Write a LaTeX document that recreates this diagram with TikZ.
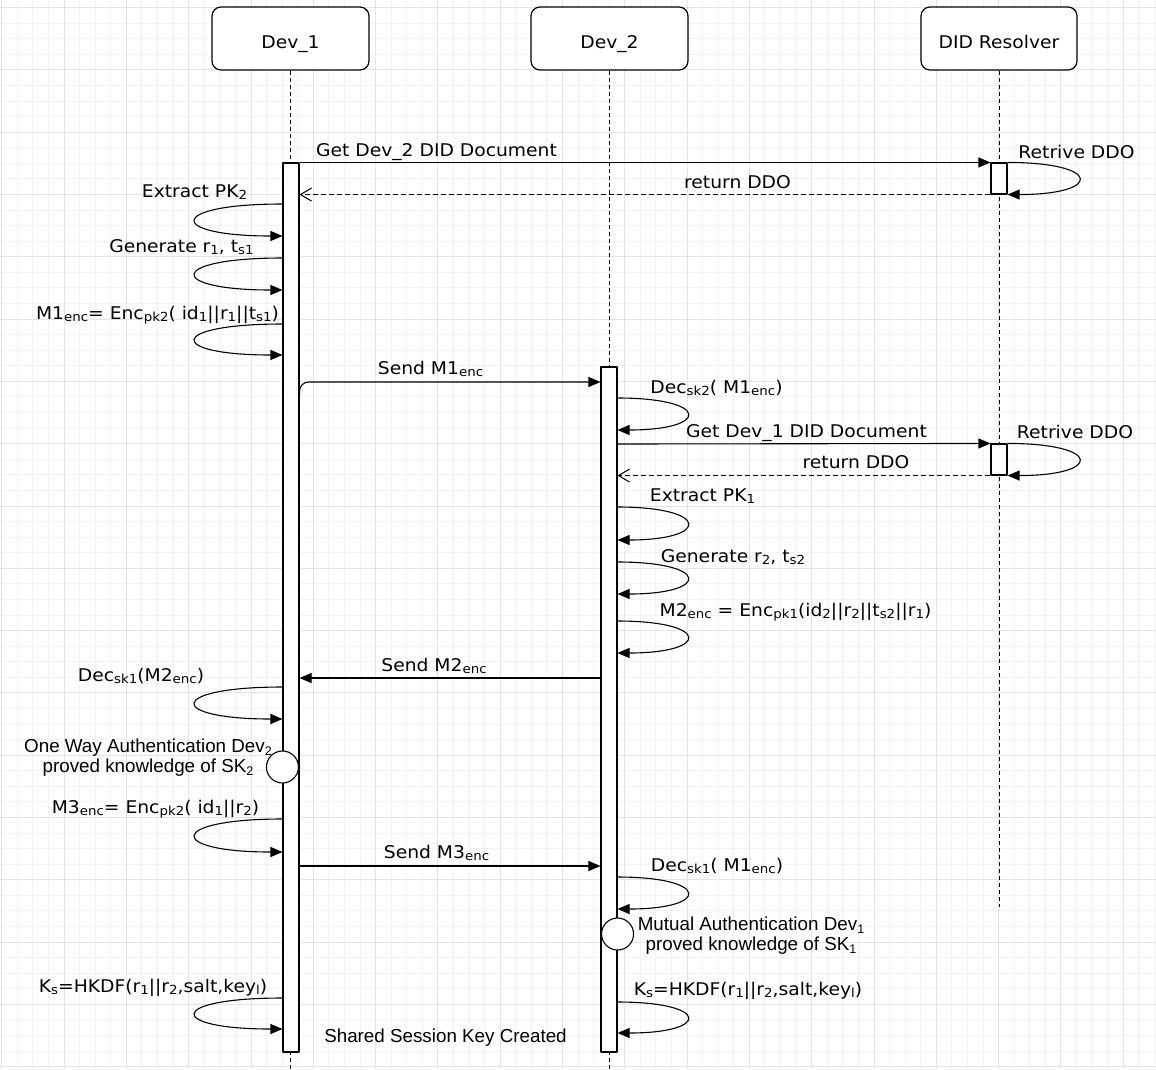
\documentclass[tikz,border=0pt]{standalone}
\usepackage{fontspec}
\setmainfont{DejaVu Sans}[FakeStretch=1.07]
\newfontfamily\arialfont{Liberation Sans}
\usetikzlibrary{arrows.meta}
\newcommand{\dn}[1]{\raisebox{-.3ex}{\fontsize{12.5}{13}\selectfont #1}}
\definecolor{gridminor}{HTML}{F3F3F3}
\definecolor{gridmajor}{HTML}{E4E4E4}

\begin{document}
\begin{tikzpicture}[x=1pt,y=-1pt,line join=round,
	head/.style={draw,rounded corners=9pt,line width=1.2pt,fill=white,minimum width=157pt,minimum height=63pt,text height=19pt,text depth=0pt,font=\fontsize{17.5}{20}\selectfont},
	actbar/.style={draw,line width=1.1pt,fill=white,minimum width=16pt,inner sep=0pt},
	authpt/.style={draw,circle,line width=1.1pt,fill=white,minimum size=32pt,inner sep=0pt},
	lifeline/.style={line width=1pt,dash pattern=on 4pt off 3pt},
	msg/.style={line width=1.1pt,-{Triangle[length=12pt,width=10pt]}},
	reply/.style={line width=1pt,dash pattern=on 5pt off 3pt,-{Straight Barb[length=11pt,width=13pt]}},
	lbl/.style={anchor=base,inner sep=0pt,font=\fontsize{17.5}{21}\selectfont},
	albl/.style={align=center,inner sep=0pt,font=\arialfont\fontsize{18.8}{20}\selectfont}]
	\useasboundingbox[fill=white] (0,0) rectangle (1156,1069);
	\foreach \i in {0,...,74}
	\draw[gridminor,line width=.8pt] ({1.7+\i*15.575},0) -- ++(0,1069);
	\foreach \j in {0,...,68}
	\draw[gridminor,line width=.8pt] (0,{7.5+\j*15.575}) -- ++(1156,0);
	\foreach \i in {0,...,18}
	\draw[gridmajor,line width=.8pt] ({1.7+\i*62.3},0) -- ++(0,1069);
	\foreach \j in {0,...,17}
	\draw[gridmajor,line width=.8pt] (0,{7.5+\j*62.3}) -- ++(1156,0);
	
	\node[head] (dev1) at (290.5,38.5) {Dev\_1};
	\node[head] (dev2) at (609.5,38.5) {Dev\_2};
	\node[head,minimum width=156pt] (res) at (999,38.5) {DID Resolver};
	\draw[lifeline] (dev1.south) -- (dev1.south |- 0,1069);
	\draw[lifeline] (dev2.south) -- (dev2.south |- 0,1069);
	\draw[lifeline] (res.south) -- (res.south |- 0,907);
	
	\node[actbar,minimum height=889pt] (bar1) at (291,607.5) {};
	\node[actbar,minimum height=685pt] (bar2) at (609,709.5) {};
	\node[actbar,minimum height=31pt] (ddo1) at (999,178.5) {};
	\node[actbar,minimum height=31pt] (ddo2) at (999,459.5) {};
	
	\draw[msg] (bar1.north east) -- (ddo1.north west);
	\draw[reply] (ddo1.south west) -- (bar1.east |- ddo1.south);
	\draw[msg,rounded corners=9pt] (bar1.east |- 0,395) -- (bar1.east |- 0,382) -- (bar2.west |- 0,382);
	\draw[msg] (bar2.east |- 0,444) -- (ddo2.north west);
	\draw[reply] (ddo2.south west) -- (bar2.east |- ddo2.south);
	\draw[msg] (bar2.west |- 0,678) -- (bar1.east |- 0,678);
	\draw[msg] (bar1.east |- 0,866) -- (bar2.west |- 0,866);
	
	\foreach \a/\b in {204/236,258/290,324/355,687/719,819/852,998/1029}
	\draw[msg] (bar1.west |- 0,\a) .. controls +(-116,0) and +(-116,0) .. (bar1.west |- 0,\b);
	\foreach \a/\b in {398/430,507/540,562/594,621/653,877/909,1002/1033}
	\draw[msg] (bar2.east |- 0,\a) .. controls +(93,0) and +(93,0) .. (bar2.east |- 0,\b);
	\draw[msg] (ddo1.north east) .. controls +(95,0) and +(95,0) .. (ddo1.south east);
	\draw[msg] (ddo2.north east) .. controls +(95,0) and +(95,0) .. (ddo2.south east);
	
	\node[authpt] (auth1) at (bar1.west |- 0,767) {};
	\node[authpt] (auth2) at (bar2.east |- 0,934) {};
	
	\node[lbl] (getdoc2) at (436.5,156) {Get Dev\_2 DID Document};
	\node[lbl] (retr1) at (1076.5,158) {Retrive DDO};
	\node[lbl] (ret1) at (737.5,188) {return DDO};
	\node[lbl] (expk2) at (194.5,197) {Extract PK\dn{2}};
	\node[lbl] (gen1) at (181.5,252) {Generate r\dn{1}, t\dn{s1}};
	\node[lbl] (m1) at (157.5,319) {M1\dn{enc}= Enc\dn{pk2}( id\dn{1}||r\dn{1}||t\dn{s1})};
	\node[lbl] (send1) at (430.5,374) {Send M1\dn{enc}};
	\node[lbl] (dec2) at (716.5,393) {Dec\dn{sk2}( M1\dn{enc})};
	\node[lbl] (getdoc1) at (806.5,437) {Get Dev\_1 DID Document};
	\node[lbl] (retr2) at (1075,438) {Retrive DDO};
	\node[lbl] (ret2) at (856,468) {return DDO};
	\node[lbl] (expk1) at (702.5,501) {Extract PK\dn{1}};
	\node[lbl] (gen2) at (733,562) {Generate r\dn{2}, t\dn{s2}};
	\node[lbl] (m2) at (795.5,616) {M2\dn{enc} = Enc\dn{pk1}(id\dn{2}||r\dn{2}||t\dn{s2}||r\dn{1})};
	\node[lbl] (send2) at (434,671) {Send M2\dn{enc}};
	\node[lbl] (dec1) at (141,681) {Dec\dn{sk1}(M2\dn{enc})};
	\node[albl] (oneway) at (148,758) {One Way Authentication Dev\dn{2}\\proved knowledge of SK\dn{2}};
	\node[lbl] (m3) at (155.5,813) {M3\dn{enc}= Enc\dn{pk2}( id\dn{1}||r\dn{2})};
	\node[lbl] (send3) at (436.5,858) {Send M3\dn{enc}};
	\node[lbl] (dec1b) at (717,871) {Dec\dn{sk1}( M1\dn{enc})};
	\node[albl] (mutual) at (751,936) {Mutual Authentication Dev\dn{1}\\proved knowledge of SK\dn{1}};
	\node[lbl] (ks2) at (748,995) {K\dn{s}=HKDF(r\dn{1}||r\dn{2},salt,key\dn{l})};
	\node[lbl] (ks1) at (153,992) {K\dn{s}=HKDF(r\dn{1}||r\dn{2},salt,key\dn{l})};
	\node[albl] (shared) at (445.5,1038) {Shared Session Key Created};
\end{tikzpicture}
\end{document}
